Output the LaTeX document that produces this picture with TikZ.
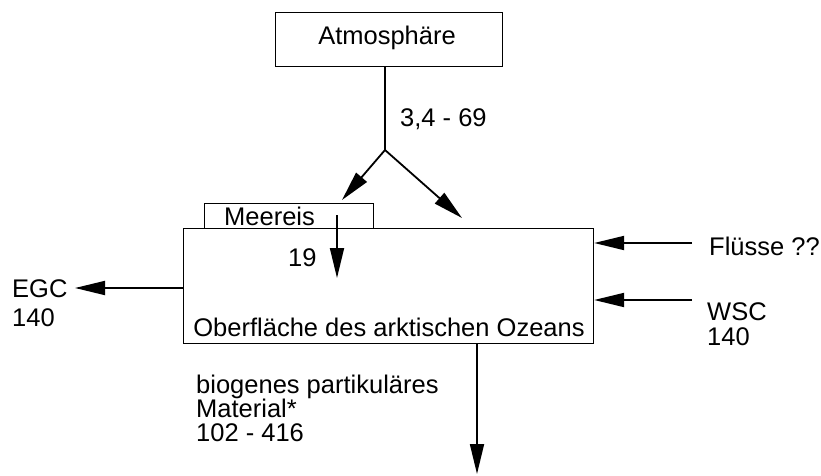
\documentclass[tikz,border=0pt]{standalone}
\usepackage{fontspec}
\setmainfont{Liberation Sans}
\usetikzlibrary{arrows.meta}
\begin{document}
\begin{tikzpicture}[x=1pt,y=-1pt,
  box/.style={draw, line width=1.1pt, inner sep=0pt},
  conn/.style={line width=1.8pt},
  arr/.style={line width=1.8pt, -{Triangle[length=30pt,width=14pt]}},
  lbl/.style={font=\fontsize{25.5}{28}\selectfont, inner sep=0pt},
]
\useasboundingbox (0,0) rectangle (821,476);
% boxes
\node[box, minimum width=227pt, minimum height=54pt, anchor=north west] (atm) at (275,12) {};
\node[lbl, anchor=base] (atmtxt) at (387,45) {Atmosphäre};
\node[box, minimum width=169pt, minimum height=25pt, anchor=north west] (ice) at (204,203) {};
\node[lbl, anchor=base west] (icetxt) at (224,225) {Meereis};
\node[box, minimum width=410pt, minimum height=115pt, anchor=north west] (ocean) at (183,228) {};
\node[lbl, anchor=base] (oceantxt) at (389,336) {Oberfläche des arktischen Ozeans};
% atmosphere input
\coordinate (branch) at (385,150);
\coordinate (e1) at (342,200);
\coordinate (e2) at (462,218);
\draw[conn] (atm.south -| branch) -- (branch);
\draw[arr] (branch) -- (e1);
\draw[arr] (branch) -- (e2);
\node[lbl, anchor=base west] (atmval) at (400,127) {3,4 - 69};
% sea ice
\coordinate (i1) at (337,215);
\coordinate (i2) at (337,278);
\draw[arr] (i1) -- (i2);
\node[lbl, anchor=base west] (iceval) at (288,266) {19};
% EGC
\node[lbl, anchor=base west] (egc) at (12,297) {EGC};
\node[lbl, anchor=base west] (egcval) at (12,326) {140};
\coordinate (egcend) at (75,288);
\draw[arr] (ocean.west |- egcend) -- (egcend);
% rivers
\coordinate (fl) at (692,243);
\node[lbl, anchor=base west] (flusse) at (709,255) {Flüsse ??};
\draw[arr] (fl) -- (ocean.east |- fl);
% WSC
\coordinate (ws) at (692,300);
\node[lbl, anchor=base west] (wsc) at (707,320) {WSC};
\node[lbl, anchor=base west] (wscval) at (707,345) {140};
\draw[arr] (ws) -- (ocean.east |- ws);
% export
\coordinate (exp) at (477,474);
\draw[arr] (ocean.south -| exp) -- (exp);
\node[lbl, anchor=base west] (bio1) at (196,393) {biogenes partikuläres};
\node[lbl, anchor=base west] (bio2) at (196,417) {Material*};
\node[lbl, anchor=base west] (bio3) at (196,441) {102 - 416};
\end{tikzpicture}
\end{document}
